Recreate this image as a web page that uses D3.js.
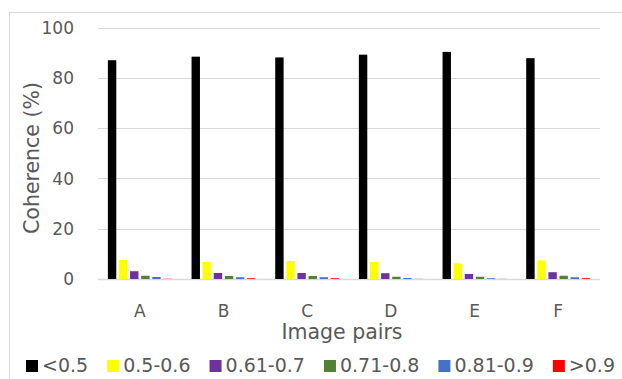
<!DOCTYPE html>
<html>
<head>
<meta charset="utf-8">
<script src="https://cdn.jsdelivr.net/npm/d3@7"></script>
<style>
  html, body { margin: 0; padding: 0; background: #fff; }
  svg { display: block; }
  text { font-family: "DejaVu Sans", sans-serif; fill: #595959; }
</style>
</head>
<body>
<svg id="chart" width="622" height="379"></svg>
<script>
// ---- data ----
const categories = ["A", "B", "C", "D", "E", "F"];
const seriesNames = ["<0.5", "0.5-0.6", "0.61-0.7", "0.71-0.8", "0.81-0.9", ">0.9"];
const seriesColors = ["#000000", "#FFFF00", "#7030A0", "#548235", "#4472C4", "#FF0000"];
const valuesLt05   = [87.0, 88.4, 88.1, 89.2, 90.3, 87.8];
const values05_06  = [7.6, 6.8, 7.2, 6.8, 6.2, 7.4];
const values061_07 = [3.1, 2.4, 2.4, 2.3, 2.0, 2.7];
const values071_08 = [1.3, 1.2, 1.2, 0.9, 0.9, 1.3];
const values081_09 = [0.8, 0.7, 0.7, 0.4, 0.3, 0.7];
const valuesGt09   = [0.1, 0.3, 0.3, 0.05, 0.05, 0.3];
const yTicks = [0, 20, 40, 60, 80, 100];
const xTitle = "Image pairs";
const yTitle = "Coherence (%)";

const seriesValues = [valuesLt05, values05_06, values061_07, values071_08, values081_09, valuesGt09];

// ---- layout ----
const svg = d3.select("#chart");
const plot = { left: 98, right: 600, top: 27.5, bottom: 279 };

// outer chart border (cropped at right/bottom)
svg.append("rect")
  .attr("x", 9.5).attr("y", 12.5)
  .attr("width", 640).attr("height", 400)
  .attr("fill", "none").attr("stroke", "#d9d9d9").attr("stroke-width", 1);

const x0 = d3.scaleBand().domain(categories).range([plot.left, plot.right]).paddingInner(0).paddingOuter(0);
const groupW = 63.9;
const x1 = d3.scaleBand().domain(seriesNames).range([0, groupW]).paddingInner(0.243).paddingOuter(0);
const groupOff = (x0.bandwidth() - groupW) / 2;
const y = d3.scaleLinear().domain([0, 100]).range([plot.bottom, plot.top]);

// gridlines
svg.append("g").selectAll("line").data(yTicks).join("line")
  .attr("x1", plot.left).attr("x2", plot.right)
  .attr("y1", d => Math.round(y(d)) + 0.5).attr("y2", d => Math.round(y(d)) + 0.5)
  .attr("stroke", "#d9d9d9").attr("stroke-width", d => d === 0 ? 1.3 : 1);

// y tick labels
svg.append("g").selectAll("text").data(yTicks).join("text")
  .attr("x", 74).attr("y", d => y(d)).attr("dy", "0.36em")
  .attr("text-anchor", "end").style("font-size", "17px")
  .text(d => d);

// bars
const groups = svg.append("g").selectAll("g").data(categories).join("g")
  .attr("transform", c => `translate(${x0(c) + groupOff},0)`);
groups.selectAll("rect")
  .data((c, ci) => seriesNames.map((s, si) => ({ s, si, v: seriesValues[si][ci] })))
  .join("rect")
  .attr("x", d => x1(d.s))
  .attr("width", x1.bandwidth())
  .attr("y", d => y(d.v))
  .attr("height", d => y(0) - y(d.v))
  .attr("fill", d => seriesColors[d.si]);

// category labels
svg.append("g").selectAll("text").data(categories).join("text")
  .attr("x", c => x0(c) + x0.bandwidth() / 2)
  .attr("y", 317)
  .attr("text-anchor", "middle").style("font-size", "17px")
  .text(c => c);

// axis titles
svg.append("text").attr("x", 342).attr("y", 339)
  .attr("text-anchor", "middle").style("font-size", "20.5px").text(xTitle);
svg.append("text")
  .attr("transform", "translate(38.5,158) rotate(-90)")
  .attr("text-anchor", "middle").style("font-size", "20.5px").text(yTitle);

// legend
const legend = svg.append("g");
const items = legend.selectAll("g").data(seriesNames).join("g");
items.append("rect").attr("width", 12).attr("height", 12).attr("y", 360)
  .attr("fill", (d, i) => seriesColors[i]);
items.append("text").attr("x", 16).attr("y", 372).style("font-size", "19px").text(d => d);
const widths = [];
items.each(function () { widths.push(this.querySelector("text").getComputedTextLength()); });
const legStart = 26, legEnd = 615;
const gapAfter = Math.max(8, (legEnd - legStart - d3.sum(widths, w => 16 + w)) / (widths.length - 1));
const total = d3.sum(widths, w => 16 + w) + gapAfter * (widths.length - 1);
let cx = (legStart + legEnd) / 2 - total / 2;
items.each(function (d, i) {
  d3.select(this).attr("transform", `translate(${cx},0)`);
  cx += 16 + widths[i] + gapAfter;
});
</script>
</body>
</html>
